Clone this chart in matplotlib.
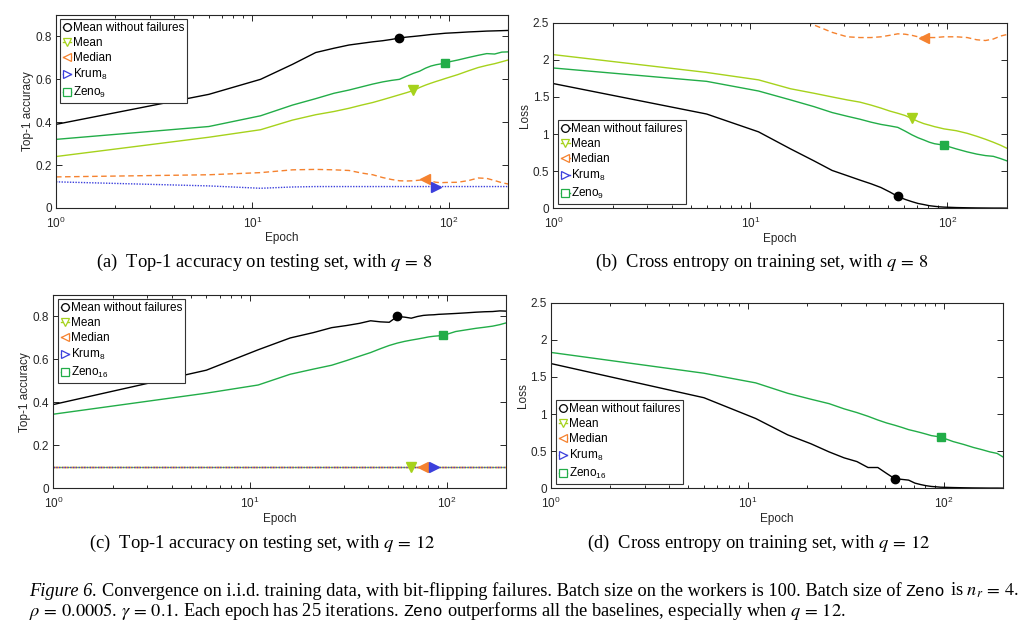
import numpy as np
import matplotlib
matplotlib.use('Agg')
import matplotlib.pyplot as plt
from matplotlib.lines import Line2D

plt.rcParams['font.family'] = ['Liberation Sans', 'DejaVu Sans']
plt.rcParams['mathtext.fontset'] = 'custom'
plt.rcParams['mathtext.rm'] = 'Liberation Sans'
plt.rcParams['mathtext.it'] = 'Liberation Sans:italic'
plt.rcParams['mathtext.bf'] = 'Liberation Sans:bold'

# ---------------- data ----------------
EPOCHS = [1, 6, 11, 16, 21, 26, 31, 36, 41, 46, 51, 56, 61, 66, 71, 76, 81, 86, 91, 96,
          111, 126, 141, 156, 171, 186, 200]

# (a) top-1 accuracy, q = 8
acc8_nofail = [.39, .53, .60, .67, .725, .745, .76, .768, .775, .78, .786, .793, .797, .80, .803,
               .806, .809, .811, .813, .815, .818, .821, .823, .825, .826, .827, .828]
acc8_mean = [.24, .33, .365, .41, .435, .45, .465, .48, .492, .505, .517, .528, .538, .548, .562,
             .573, .582, .59, .597, .604, .622, .64, .655, .665, .673, .682, .69]
acc8_median = [.145, .155, .165, .178, .18, .178, .175, .163, .155, .142, .133, .127, .126, .127,
               .130, .134, .125, .120, .118, .119, .120, .128, .140, .138, .128, .118, .112]
acc8_krum = [.122, .103, .092, .098, .1, .1, .1, .1, .1, .1, .1, .1, .1, .1, .1, .1, .1, .1, .1,
             .1, .1, .1, .1, .1, .1, .1, .1]
acc8_zeno = [.32, .38, .43, .48, .51, .535, .55, .565, .578, .588, .595, .60, .615, .628, .638,
             .652, .662, .668, .672, .678, .69, .702, .712, .72, .718, .727, .728]

# (b) training loss, q = 8
loss8_nofail = [1.68, 1.27, 1.03, .80, .64, .51, .44, .38, .33, .28, .22, .16, .12, .09, .065,
                .05, .035, .027, .02, .016, .01, .007, .005, .004, .003, .003, .002]
loss8_mean = [2.07, 1.83, 1.73, 1.61, 1.55, 1.50, 1.46, 1.43, 1.39, 1.35, 1.31, 1.28, 1.25, 1.21,
              1.17, 1.14, 1.12, 1.10, 1.085, 1.07, 1.045, 1.01, .97, .93, .89, .85, .81]
loss8_median = [np.nan, np.nan, np.nan, 2.62, 2.47, 2.37, 2.31, 2.30, 2.30, 2.31, 2.33, 2.35,
                2.345, 2.33, 2.31, 2.30, 2.30, 2.30, 2.305, 2.31, 2.31, 2.30, 2.27, 2.26, 2.28,
                2.32, 2.34]
loss8_zeno = [1.89, 1.71, 1.58, 1.46, 1.37, 1.29, 1.24, 1.20, 1.16, 1.13, 1.11, 1.09, 1.04, .99,
              .95, .92, .89, .87, .86, .85, .80, .76, .73, .71, .70, .67, .64]

# (c) top-1 accuracy, q = 12
acc12_nofail = [.39, .55, .645, .70, .725, .748, .758, .768, .78, .775, .773, .80, .797, .792,
                .80, .805, .807, .808, .81, .811, .814, .817, .82, .822, .823, .826, .825]
acc12_fail = [.1] * len(EPOCHS)   # Mean, Median and Krum all stay at 0.1
acc12_zeno = [.345, .443, .481, .531, .555, .573, .595, .615, .632, .65, .665, .676, .684, .69,
              .695, .70, .705, .708, .71, .712, .73, .738, .745, .75, .755, .762, .77]

# (d) training loss, q = 12
loss12_nofail = [1.68, 1.22, .94, .72, .60, .49, .41, .36, .28, .28, .20, .13, .12, .11, .07,
                 .05, .035, .025, .02, .015, .01, .007, .005, .004, .003, .003, .002]
loss12_zeno = [1.83, 1.55, 1.42, 1.28, 1.20, 1.14, 1.07, 1.02, .97, .92, .88, .85, .82, .79,
               .77, .75, .73, .71, .70, .69, .63, .59, .55, .52, .49, .47, .42]

MARK_EPOCH = {'nofail': 56, 'mean': 66, 'median': 76, 'krum': 86, 'zeno': 96}

LABELS_BASE = ['Mean without failures', 'Mean', 'Median', 'Krum$_8$']
CAPTIONS = ['(a)  Top-1 accuracy on testing set, with $q\\,=\\,8$',
            '(b)  Cross entropy on training set, with $q\\,=\\,8$',
            '(c)  Top-1 accuracy on testing set, with $q\\,=\\,12$',
            '(d)  Cross entropy on training set, with $q\\,=\\,12$']

# ---------------- styles ----------------
STY = {
    'nofail': dict(color='black', ls='-', marker='o', ms=6),
    'mean': dict(color='#a6d21c', ls='-', marker='v', ms=7),
    'median': dict(color='#f5822f', ls=(0, (4, 2.5)), marker='<', ms=7),
    'krum': dict(color='#3b3fdc', ls=(0, (1, 1)), marker='>', ms=7),
    'zeno': dict(color='#22ad48', ls='-', marker='s', ms=5.5),
}
TXT = '0.15'

fig = plt.figure(figsize=(10.31, 6.34), dpi=100)
W, H = 1031, 634


def add_ax(l, t, r, b):
    return fig.add_axes([l / W, 1 - b / H, (r - l) / W, (b - t) / H])


axA = add_ax(56, 15, 508, 208)
axB = add_ax(553.3, 22.7, 1006.7, 208.3)
axC = add_ax(53.3, 295, 506, 488.3)
axD = add_ax(551, 302.7, 1003.3, 488.3)


def draw(ax, key, vals, lw=1.0):
    s = STY[key]
    ax.plot(EPOCHS, vals, color=s['color'], ls=s['ls'], lw=lw, zorder=2)
    i = EPOCHS.index(MARK_EPOCH[key])
    ax.plot([EPOCHS[i]], [vals[i]], ls='none', marker=s['marker'], ms=s['ms'],
            color=s['color'], mec=s['color'], zorder=3)


def setup(ax, ymax, yticks, ylabel):
    ax.set_xscale('log')
    ax.set_xlim(1, 200)
    ax.set_ylim(0, ymax)
    ax.set_yticks(yticks)
    ax.set_yticklabels(['%g' % v for v in yticks])
    ax.set_xticks([1, 10, 100])
    ax.set_xticklabels(['$10^0$', '$10^1$', '$10^2$'])
    ax.tick_params(which='both', direction='in', top=True, right=True, labelsize=8.5,
                   labelcolor=TXT, color='0.15', width=0.7)
    ax.tick_params(which='major', length=4)
    ax.tick_params(axis='x', which='major', pad=5.5)
    ax.tick_params(axis='y', which='major', pad=3)
    ax.tick_params(which='minor', length=2.2)
    for sp in ax.spines.values():
        sp.set_linewidth(0.8)
        sp.set_color('0.15')
    ax.set_xlabel('Epoch', fontsize=8.5, color=TXT, labelpad=1)
    ax.set_ylabel(ylabel, fontsize=8.5, color=TXT, labelpad=1)


def legend(ax, zeno_label, loc, anchor):
    keys = ['nofail', 'mean', 'median', 'krum', 'zeno']
    labels = LABELS_BASE + [zeno_label]
    handles = []
    for k in keys:
        s = STY[k]
        handles.append(Line2D([], [], color=s['color'], ls='-', lw=1.0, marker=s['marker'],
                              ms=5.5, mfc='white', mec=s['color'], mew=0.9))
    lg = ax.legend(handles, labels, loc=loc, bbox_to_anchor=anchor, fontsize=8.5,
                   handlelength=0.7, handletextpad=0.15, borderpad=0.25, labelspacing=0.25,
                   borderaxespad=0, fancybox=False, framealpha=1, edgecolor='0.2')
    lg.get_frame().set_linewidth(0.8)
    lg.set_zorder(5)


# (a)
draw(axA, 'nofail', acc8_nofail)
draw(axA, 'mean', acc8_mean)
draw(axA, 'median', acc8_median)
draw(axA, 'krum', acc8_krum)
draw(axA, 'zeno', acc8_zeno)
setup(axA, 0.9, [0, .2, .4, .6, .8], 'Top-1 accuracy')
legend(axA, 'Zeno$_9$', 'upper left', (0.009, 0.979))

# (b)
draw(axB, 'nofail', loss8_nofail)
draw(axB, 'mean', loss8_mean)
draw(axB, 'median', loss8_median)
draw(axB, 'zeno', loss8_zeno)
setup(axB, 2.5, [0, .5, 1, 1.5, 2, 2.5], 'Loss')
legend(axB, 'Zeno$_9$', 'lower left', (0.011, 0.023))

# (c)
draw(axC, 'nofail', acc12_nofail)
draw(axC, 'mean', acc12_fail)
draw(axC, 'median', acc12_fail)
draw(axC, 'krum', acc12_fail)
draw(axC, 'zeno', acc12_zeno)
setup(axC, 0.9, [0, .2, .4, .6, .8], 'Top-1 accuracy')
legend(axC, 'Zeno$_{16}$', 'upper left', (0.0097, 0.979))

# (d)
draw(axD, 'nofail', loss12_nofail)
draw(axD, 'zeno', loss12_zeno)
setup(axD, 2.5, [0, .5, 1, 1.5, 2, 2.5], 'Loss')
legend(axD, 'Zeno$_{16}$', 'lower left', (0.0104, 0.023))

# sub-captions
SERIF = ['Liberation Serif', 'DejaVu Serif']
for cap, (cx, cy) in zip(CAPTIONS, [(264, 262), (762, 262), (262, 543), (759, 543)]):
    fig.text(cx / W, 1 - cy / H, cap, ha='center', va='center', fontsize=13.3,
             family=SERIF, math_fontfamily='stix', color='black')

# figure caption built from pieces (mixed fonts)
renderer = fig.canvas.get_renderer()
LINE1 = [('Figure 6.', 'it'), (' Convergence on i.i.d. training data, with bit-flipping failures. '
          'Batch size on the workers is 100. Batch size of ', 'rm'), ('Zeno', 'tt'),
         (' is $n_r\\,=\\,4$.', 'rm')]
LINE2 = [('$\\rho\\,=\\,0.0005$. $\\gamma\\,=\\,0.1$. Each epoch has 25 iterations. ', 'rm'),
         ('Zeno', 'tt'),
         (' outperforms all the baselines, especially when $q\\,=\\,12$.', 'rm')]


def make_text(x, y, s, kind, size):
    kw = dict(fontsize=size, va='baseline', ha='left', math_fontfamily='stix', color='black')
    if kind == 'tt':
        kw['family'] = ['Liberation Mono', 'DejaVu Sans Mono']
        kw['fontsize'] = size * 0.9
    else:
        kw['family'] = SERIF
        if kind == 'it':
            kw['style'] = 'italic'
    return fig.text(x / W, 1 - y / H, s, **kw)


def space_w(kind, size):
    t1 = make_text(0, 0, 'a a', kind, size)
    t2 = make_text(0, 0, 'aa', kind, size)
    w = t1.get_window_extent(renderer).width - t2.get_window_extent(renderer).width
    t1.remove(); t2.remove()
    return w


def rich_line(pieces, x0, y, size):
    x = x0
    for s, kind in pieces:
        lead = len(s) - len(s.lstrip(' '))
        trail = len(s) - len(s.rstrip(' '))
        sw = space_w(kind, size)
        x += lead * sw
        t = make_text(x, y, s.strip(' '), kind, size)
        x = t.get_window_extent(renderer).x1
        x += trail * sw
    return x


CAP_SIZE = 13.2
rich_line(LINE1, 29, 596, CAP_SIZE)
rich_line(LINE2, 29, 616, CAP_SIZE)

fig.savefig('out.png', dpi=100)
